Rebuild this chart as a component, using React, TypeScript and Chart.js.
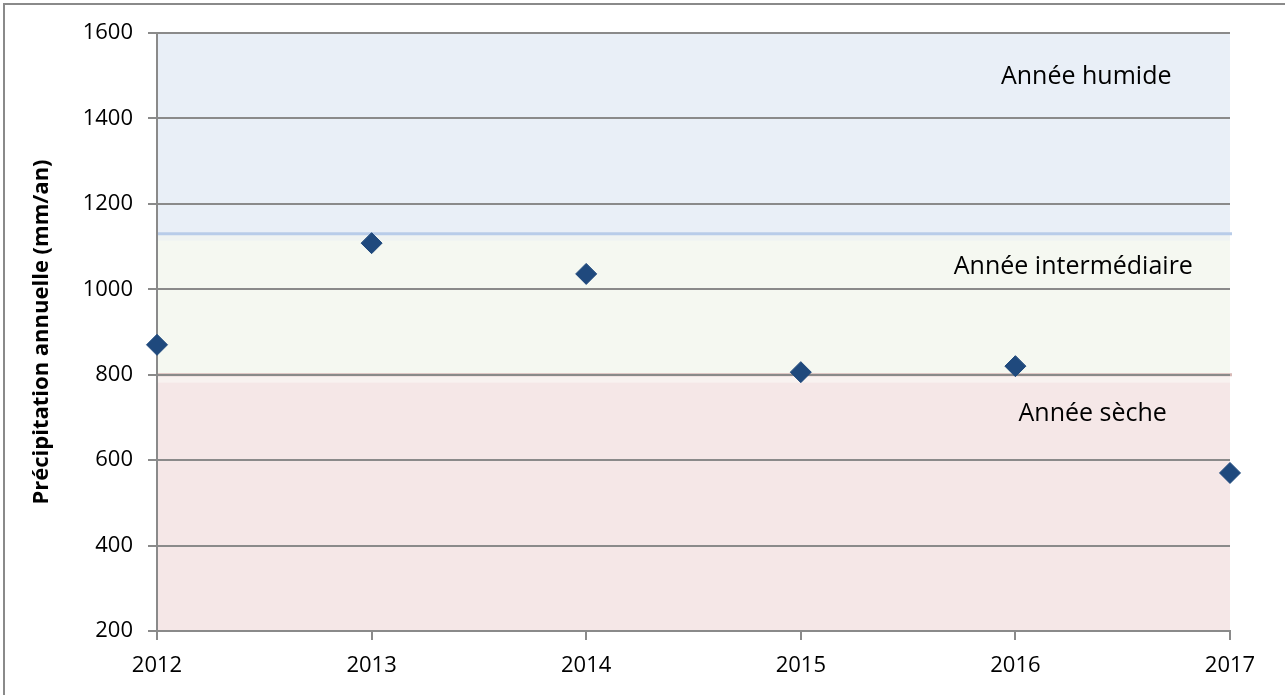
import React, { useEffect, useRef } from "react";
import { Chart, registerables } from "chart.js";

Chart.register(...registerables);

const years: number[] = [2012, 2013, 2014, 2015, 2016, 2017];
const precipitation: number[] = [870, 1108, 1036, 806, 820, 570];
const yMin = 200;
const yMax = 1600;
const yStep = 200;
const dryLimit = 800;
const wetLimit = 1130;
const zoneLabels: string[] = ["Année humide", "Année intermédiaire", "Année sèche"];
const yTitle = "Précipitation annuelle (mm/an)";

const FONT = "'Open Sans', 'DejaVu Sans', sans-serif";
const GRID = "#8a8a8a";

const bandsPlugin = {
  id: "bands",
  beforeDraw(chart: any) {
    const { ctx, chartArea, scales } = chart;
    const y = scales.y;
    const l = chartArea.left;
    const r = chartArea.right;
    const py = (v: number) => y.getPixelForValue(v);
    ctx.save();
    // outer frame
    ctx.strokeStyle = GRID;
    ctx.lineWidth = 2;
    ctx.strokeRect(4, 4, chart.width + 10, chart.height + 10);
    // dry band
    ctx.fillStyle = "#f5e7e7";
    ctx.fillRect(l, py(dryLimit), r - l, py(yMin) - py(dryLimit));
    ctx.fillStyle = "#f8f2f0";
    ctx.fillRect(l, py(dryLimit), r - l, 8);
    // intermediate band
    ctx.fillStyle = "#f5f8f1";
    ctx.fillRect(l, py(wetLimit), r - l, py(dryLimit) - py(wetLimit));
    ctx.fillStyle = "#eff3f2";
    ctx.fillRect(l, py(wetLimit), r - l, 7);
    // wet band
    ctx.fillStyle = "#e9eff7";
    ctx.fillRect(l, py(yMax), r - l, py(wetLimit) - py(yMax));
    // threshold lines
    ctx.lineWidth = 3;
    ctx.strokeStyle = "#b8cce9";
    ctx.beginPath();
    ctx.moveTo(l, py(wetLimit));
    ctx.lineTo(r + 2, py(wetLimit));
    ctx.stroke();
    ctx.strokeStyle = "#d7b9b6";
    ctx.beginPath();
    ctx.moveTo(l, py(dryLimit));
    ctx.lineTo(r + 2, py(dryLimit));
    ctx.stroke();
    ctx.restore();
  },
  afterDatasetsDraw(chart: any) {
    const { ctx, scales } = chart;
    const x = scales.x;
    const y = scales.y;
    ctx.save();
    ctx.fillStyle = "#000";
    ctx.font = `25px ${FONT}`;
    ctx.textAlign = "center";
    ctx.textBaseline = "middle";
    ctx.fillText(zoneLabels[0], x.getPixelForValue(2016.33), y.getPixelForValue(1497));
    ctx.fillText(zoneLabels[1], x.getPixelForValue(2016.27), y.getPixelForValue(1052));
    ctx.fillText(zoneLabels[2], x.getPixelForValue(2016.36), y.getPixelForValue(708));
    ctx.restore();
  },
};

export default function App() {
  const ref = useRef<HTMLCanvasElement | null>(null);

  useEffect(() => {
    document.body.style.margin = "0";
    if (!ref.current) return;
    const chart = new Chart(ref.current, {
      type: "scatter",
      data: {
        datasets: [
          {
            label: "Précipitation",
            data: years.map((yr, i) => ({ x: yr, y: precipitation[i] })),
            pointStyle: "rectRot",
            pointRadius: 10.5,
            pointHoverRadius: 10.5,
            backgroundColor: "#1f497d",
            borderColor: "#1f497d",
            borderWidth: 1,
            showLine: false,
            clip: false,
          },
        ],
      },
      options: {
        responsive: false,
        animation: false,
        devicePixelRatio: 1,
        layout: { padding: { top: 33, right: 55, left: 0, bottom: 0 } },
        plugins: {
          legend: { display: false },
          tooltip: { enabled: false },
        },
        scales: {
          x: {
            type: "linear",
            min: years[0],
            max: years[years.length - 1],
            afterFit: (s: any) => {
              s.height = 64;
            },
            ticks: {
              stepSize: 1,
              color: "#000",
              padding: 13,
              font: { family: FONT, size: 22 },
              callback: (v: any) => String(v),
            },
            grid: {
              drawOnChartArea: false,
              drawTicks: true,
              tickLength: 9,
              color: GRID,
              lineWidth: 2,
            },
            border: { color: GRID, width: 2 },
          },
          y: {
            min: yMin,
            max: yMax,
            afterFit: (s: any) => {
              s.width = 157;
            },
            ticks: {
              stepSize: yStep,
              color: "#000",
              padding: 15,
              font: { family: FONT, size: 22 },
              callback: (v: any) => String(v),
            },
            grid: {
              color: GRID,
              lineWidth: 2,
              tickLength: 9,
            },
            border: { color: GRID, width: 2 },
            title: {
              display: true,
              text: yTitle,
              color: "#000",
              font: { family: FONT, size: 22, weight: "bold" },
              padding: { top: 29, bottom: 0 },
            },
          },
        },
      },
      plugins: [bandsPlugin],
    });
    return () => chart.destroy();
  }, []);

  return (
    <div style={{ position: "absolute", left: 0, top: 0, width: 1285, height: 695 }}>
      <canvas ref={ref} width={1285} height={695} style={{ width: 1285, height: 695 }} />
    </div>
  );
}
